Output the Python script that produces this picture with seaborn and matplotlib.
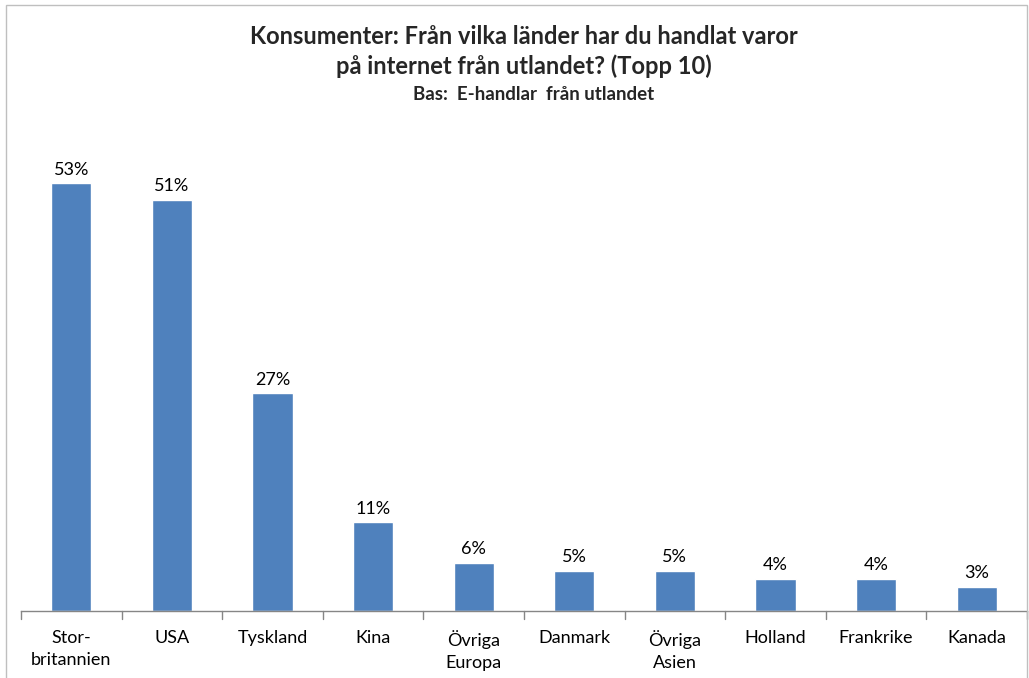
import matplotlib
matplotlib.use("Agg")
import matplotlib.pyplot as plt
import seaborn as sns
import pandas as pd
from matplotlib.patches import Rectangle

# values (percent)
countries = ["Stor-\nbritannien", "USA", "Tyskland", "Kina", "Övriga\nEuropa",
             "Danmark", "Övriga\nAsien", "Holland", "Frankrike", "Kanada"]
shares = [53, 51, 27, 11, 6, 5, 5, 4, 4, 3]

df = pd.DataFrame({"Land": countries, "Andel": shares})

sns.set_theme(style="white")
plt.rcParams["font.family"] = ["Lato", "DejaVu Sans"]

fig = plt.figure(figsize=(10.29, 6.78), dpi=100)
ax = fig.add_axes([21 / 1029, 1 - 611 / 678, 1006 / 1029, (611 - 127) / 678])

sns.barplot(data=df, x="Land", y="Andel", color="#4F81BD", width=0.4,
            saturation=1, ax=ax)
ax.set_ylim(0, 60)
ax.set_xlim(-0.5, len(countries) - 0.5)

for i, v in enumerate(shares):
    ax.annotate(f"{v}%", (i, v), xytext=(0, 4), textcoords="offset points",
                ha="center", va="bottom", fontsize=13, color="#000000")

ax.set_xlabel("")
ax.set_ylabel("")
ax.set_yticks([])
for s in ["top", "right", "left"]:
    ax.spines[s].set_visible(False)
ax.spines["bottom"].set_color("#868686")
ax.spines["bottom"].set_linewidth(1)

# tick marks between categories
ax.set_xticks(range(len(countries)))
ax.set_xticklabels(countries, fontsize=13, color="#000000", linespacing=1.45)
ax.tick_params(axis="x", length=0, pad=14)
for b in [i - 0.5 for i in range(len(countries) + 1)]:
    ax.plot([b, b], [0, -1.0], color="#868686", lw=1, clip_on=False)

fig.text(524 / 1029, 1 - 37 / 678, "Konsumenter: Från vilka länder har du handlat varor",
         ha="center", va="center", fontsize=17, fontweight="bold")
fig.text(524 / 1029, 1 - 66 / 678, "på internet från utlandet? (Topp 10)",
         ha="center", va="center", fontsize=17, fontweight="bold")
fig.text(534 / 1029, 1 - 95 / 678, "Bas:  E-handlar  från utlandet",
         ha="center", va="center", fontsize=13.5, fontweight="bold")

# chart area border
fig.patches.append(Rectangle((6 / 1029, -0.05), 1021 / 1029, 1 - 5 / 678 + 0.05,
                             transform=fig.transFigure, fill=False,
                             edgecolor="#BFBFBF", lw=1))

fig.savefig("out.png", dpi=100)
